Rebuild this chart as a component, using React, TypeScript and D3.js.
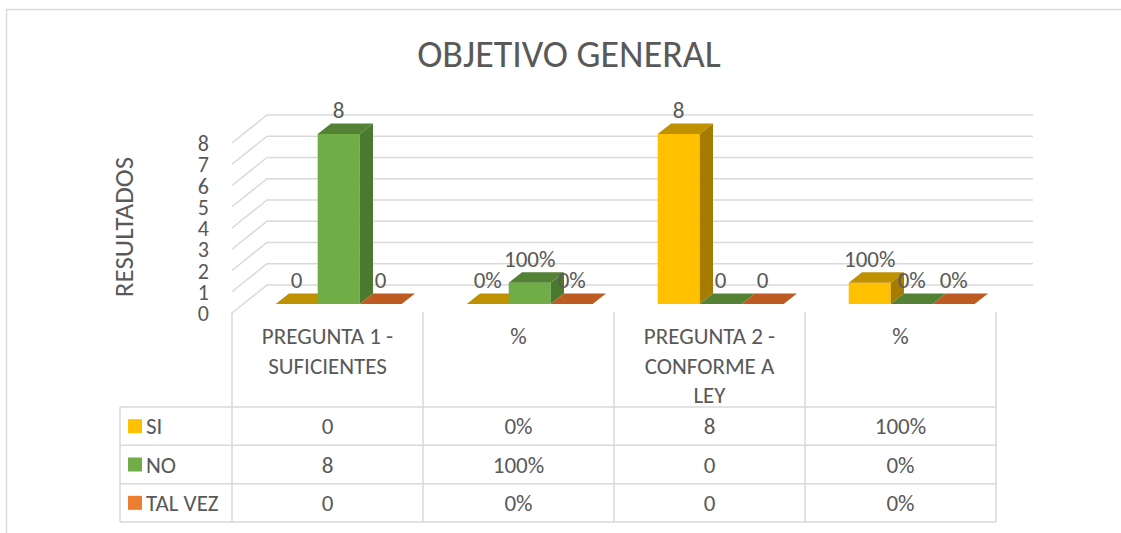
import React from "react";
import * as d3 from "d3";

const width = 1121;
const height = 533;

const title = "OBJETIVO GENERAL";
const yTitle = "RESULTADOS";
const categories = ["PREGUNTA 1 - SUFICIENTES", "%", "PREGUNTA 2 - CONFORME A LEY", "%"];
const headerLines = [["PREGUNTA 1 -", "SUFICIENTES"], ["%"], ["PREGUNTA 2 -", "CONFORME A", "LEY"], ["%"]];
const isPercent = [false, true, false, true];
const seriesNames = ["SI", "NO", "TAL VEZ"];
const siValues = [0, 0, 8, 1];
const noValues = [8, 1, 0, 0];
const talVezValues = [0, 0, 0, 0];
const yTicks = [0, 1, 2, 3, 4, 5, 6, 7, 8];

const seriesValues = [siValues, noValues, talVezValues];
// front / top / side shades and legend colour for each series
const palette = [
  { front: "#FFC000", top: "#BF9000", side: "#A67C00", legend: "#FFC000" },
  { front: "#70AD47", top: "#548235", side: "#4B7A2F", legend: "#70AD47" },
  { front: "#ED7D31", top: "#BE5B22", side: "#A84E1C", legend: "#ED7D31" },
];

const grid = "#d9d9d9";
const textColor = "#595959";
const font = "Carlito, Calibri, Lato, sans-serif";
const fs = 23;

// 3d depth offset (front -> back)
const depthX = 35;
const depthY = -28;
const barD0 = 0.32;
const barD1 = 0.7;
const groupWidth = 126;

const x0 = d3.scaleBand<number>().domain(categories.map((_, i) => i)).range([232, 996]);
const x1 = d3.scaleBand<string>().domain(seriesNames).range([0, groupWidth]);
const y = d3.scaleLinear().domain([0, 8]).range([313, 143]);
const rowY = d3.scaleBand<string>().domain(seriesNames).range([407, 522]);
const pct = d3.format(".0%");

const proj = (x: number, v: number, d: number): [number, number] => [x + depthX * d, y(v) + depthY * d];
const poly = (pts: [number, number][]) => "M" + pts.map((p) => p.join(",")).join("L") + "Z";

const App = () => {
  const bars: React.ReactNode[] = [];
  const labels: React.ReactNode[] = [];
  categories.forEach((_, ci) => {
    const gx = (x0(ci) as number) + (x0.bandwidth() - groupWidth) / 2;
    seriesNames.forEach((s, si) => {
      const v = seriesValues[si][ci];
      const xl = gx + (x1(s) as number);
      const xr = xl + x1.bandwidth();
      const c = palette[si];
      const top = poly([proj(xl, v, barD0), proj(xr, v, barD0), proj(xr, v, barD1), proj(xl, v, barD1)]);
      if (v > 0) {
        bars.push(
          <g key={`b${ci}-${si}`}>
            <path d={poly([proj(xl, 0, barD0), proj(xr, 0, barD0), proj(xr, v, barD0), proj(xl, v, barD0)])} fill={c.front} />
            <path d={poly([proj(xr, 0, barD0), proj(xr, 0, barD1), proj(xr, v, barD1), proj(xr, v, barD0)])} fill={c.side} />
            <path d={top} fill={c.top} />
          </g>
        );
      } else {
        bars.push(<path key={`b${ci}-${si}`} d={top} fill={c.top} />);
      }
      const [lx, ly] = proj((xl + xr) / 2, v, barD0);
      labels.push(
        <text key={`l${ci}-${si}`} x={lx} y={ly - 16} textAnchor="middle" fontSize={fs} fill={textColor}>
          {isPercent[ci] ? pct(v) : v}
        </text>
      );
    });
  });

  const colEdges = [...categories.map((_, i) => x0(i) as number), x0.range()[1]];

  return (
    <div style={{ position: "absolute", left: 0, top: 0 }}>
      <svg width={width} height={height} style={{ fontFamily: font, fontWeight: 300, display: "block" }}>
        <rect x={0} y={0} width={width} height={height} fill="#fff" />
        <rect x={6.5} y={9.5} width={1130} height={540} fill="none" stroke={grid} strokeWidth={1.5} />
        <text x={569} y={67} textAnchor="middle" fontSize={38} fill={textColor}>{title}</text>

        {/* walls */}
        {yTicks.map((t) => {
          const a = proj(232, t, 0);
          const b = proj(232, t, 1);
          const c = proj(998, t, 1);
          return (
            <path key={`g${t}`} d={`M${a.join(",")}L${b.join(",")}L${c.join(",")}`} fill="none" stroke={grid} strokeWidth={1.5} />
          );
        })}
        {yTicks.map((t) => (
          <text key={`t${t}`} x={209} y={y(t) + 8} textAnchor="end" fontSize={22} fill={textColor}>{t}</text>
        ))}
        <text transform="translate(132.5,227) rotate(-90)" textAnchor="middle" fontSize={27} fill={textColor}>{yTitle}</text>

        {bars}
        {labels}

        {/* data table */}
        {colEdges.map((x, i) => (
          <line key={`c${i}`} x1={x} x2={x} y1={312} y2={522} stroke={grid} strokeWidth={1.5} />
        ))}
        <line x1={120} x2={120} y1={407} y2={522} stroke={grid} strokeWidth={1.5} />
        {[407, ...seriesNames.map((s) => (rowY(s) as number) + rowY.bandwidth())].map((yy, i) => (
          <line key={`r${i}`} x1={120} x2={996} y1={yy} y2={yy} stroke={grid} strokeWidth={1.5} />
        ))}
        {headerLines.map((lines, ci) =>
          lines.map((ln, li) => (
            <text key={`h${ci}-${li}`} x={(x0(ci) as number) + x0.bandwidth() / 2} y={344 + li * 29.5} textAnchor="middle" fontSize={fs} fill={textColor}>
              {ln}
            </text>
          ))
        )}
        {seriesNames.map((s, si) => {
          const cy = (rowY(s) as number) + rowY.bandwidth() / 2;
          return (
            <g key={`row${si}`}>
              <rect x={128} y={cy - 7} width={14} height={14} fill={palette[si].legend} />
              <text x={146} y={cy + 8} fontSize={fs} fill={textColor}>{s}</text>
              {categories.map((_, ci) => (
                <text key={ci} x={(x0(ci) as number) + x0.bandwidth() / 2} y={cy + 8} textAnchor="middle" fontSize={fs} fill={textColor}>
                  {isPercent[ci] ? pct(seriesValues[si][ci]) : seriesValues[si][ci]}
                </text>
              ))}
            </g>
          );
        })}
      </svg>
    </div>
  );
};

export default App;
